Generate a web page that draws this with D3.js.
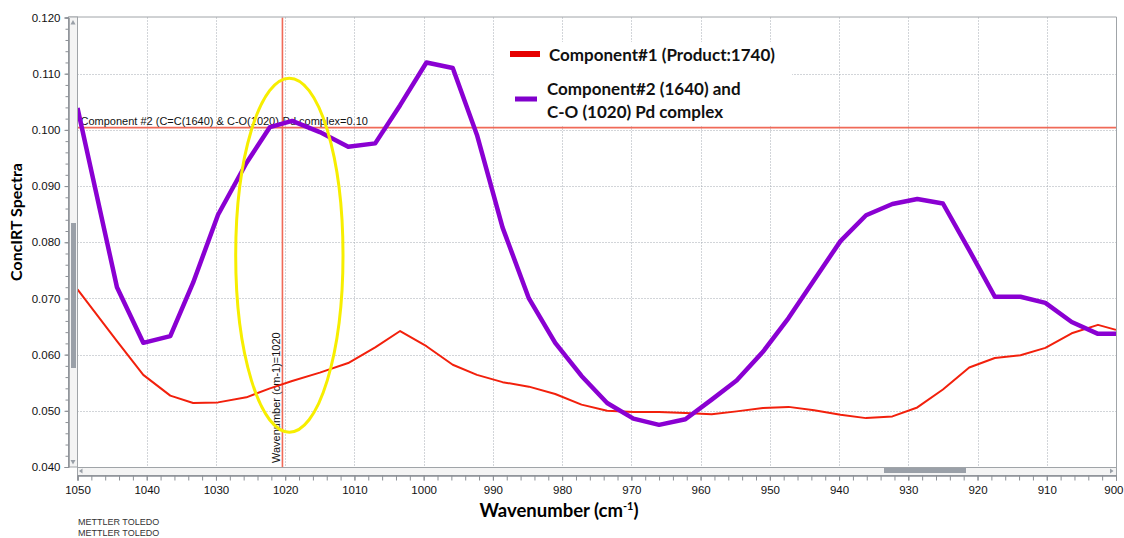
<!DOCTYPE html>
<html>
<head>
<meta charset="utf-8">
<script src="https://cdn.jsdelivr.net/npm/d3@7"></script>
<style>
  body { margin: 0; background: #fff; }
  svg { display: block; }
  .tick text { font-family: "Liberation Sans", Arial, sans-serif; font-size: 11.5px; fill: #111; }
</style>
</head>
<body>
<div id="chart"></div>
<script>
// wavenumber samples (cm-1), shared by both components
const wavenumbers = [1050, 1044.3, 1040.5, 1036.6, 1033.3, 1029.7, 1025.6, 1022.2, 1019, 1015,
    1010.9, 1007, 1003.4, 999.6, 995.8, 992.3, 988.6, 984.8, 981, 977.2,
    973.5, 969.7, 966, 962.2, 958.4, 954.8, 951, 947.3, 943.6, 939.8,
    936.1, 932.3, 928.7, 925, 921.2, 917.5, 913.8, 910.2, 906.4, 902.6, 900];

const component1 = [0.0716, 0.0624, 0.0564, 0.0527, 0.0514, 0.0515, 0.0524, 0.0540, 0.0553, 0.0568,
    0.0585, 0.0613, 0.0642, 0.0615, 0.0582, 0.0564, 0.0551, 0.0543, 0.0530, 0.0511,
    0.0500, 0.0498, 0.0498, 0.0496, 0.0494, 0.0499, 0.0505, 0.0507, 0.0501, 0.0493,
    0.0487, 0.0490, 0.0506, 0.0538, 0.0577, 0.0594, 0.0599, 0.0612, 0.0638, 0.0653, 0.0644];

const component2 = [0.1039, 0.0720, 0.0621, 0.0633, 0.0728, 0.0849, 0.0941, 0.1005, 0.1016, 0.0996,
    0.0970, 0.0976, 0.1044, 0.1120, 0.1110, 0.0991, 0.0826, 0.0700, 0.0621, 0.0562,
    0.0514, 0.0486, 0.0475, 0.0485, 0.0520, 0.0554, 0.0605, 0.0665, 0.0733, 0.0802,
    0.0848, 0.0868, 0.0877, 0.0869, 0.0786, 0.0703, 0.0703, 0.0692, 0.0658, 0.0637, 0.0637];

const xTickLabels = [1050, 1040, 1030, 1020, 1010, 1000, 990, 980, 970, 960, 950, 940, 930, 920, 910, 900];
const yTickLabels = [0.040, 0.050, 0.060, 0.070, 0.080, 0.090, 0.100, 0.110, 0.120];

const legendLabels = [["Component#1 (Product:1740)"], ["Component#2 (1640) and", "C-O (1020) Pd complex"]];
const seriesColors = ["#f2200c", "#8a00d2"];

// cursor read-out and highlight ellipse (in data units)
const cursorWave = 1020.4;
const cursorValue = 0.1004;
const cursorText = "Component #2 (C=C(1640) & C-O(1020)-Pd complex=0.10";
const cursorWaveText = "Wavenumber (cm-1)=1020";
const ellipse = { wave: 1019.4, value: 0.0777, dWave: 7.75, dValue: 0.0315 };

const width = 1124, height = 538;
const plotLeft = 77.5, plotRight = 1116, plotTop = 17.5, plotBottom = 467;

const svg = d3.select("#chart").append("svg")
    .attr("width", width)
    .attr("height", height);

const x = d3.scaleLinear().domain([1050, 900]).range([plotLeft, plotRight]);
const y = d3.scaleLinear().domain([0.04, 0.12]).range([plotBottom, plotTop]);

// grid
const grid = svg.append("g").attr("class", "grid");
grid.selectAll("line.gx")
    .data(xTickLabels.slice(1, -1))
    .enter().append("line")
    .attr("x1", d => Math.round(x(d)) + 0.5).attr("x2", d => Math.round(x(d)) + 0.5)
    .attr("y1", plotTop).attr("y2", plotBottom)
    .attr("stroke", "#a4aab2").attr("stroke-dasharray", "1,2");
grid.selectAll("line.gy")
    .data(yTickLabels.slice(1, -1))
    .enter().append("line")
    .attr("x1", plotLeft).attr("x2", plotRight)
    .attr("y1", d => Math.round(y(d)) + 0.5).attr("y2", d => Math.round(y(d)) + 0.5)
    .attr("stroke", "#a4aab2").attr("stroke-dasharray", "1,2");

// white legend backdrop
svg.append("rect")
    .attr("x", 494).attr("y", 42).attr("width", 298).attr("height", 84)
    .attr("fill", "#fff");

// cursor lines
svg.append("line")
    .attr("x1", x(cursorWave)).attr("x2", x(cursorWave))
    .attr("y1", plotTop).attr("y2", plotBottom)
    .attr("stroke", "#f06a58").attr("stroke-width", 1.6);
svg.append("line")
    .attr("x1", plotLeft).attr("x2", plotRight)
    .attr("y1", y(cursorValue)).attr("y2", y(cursorValue))
    .attr("stroke", "#f06a58").attr("stroke-width", 1.6);

svg.append("text")
    .attr("x", plotLeft + 3).attr("y", y(cursorValue) - 3)
    .style("font-family", "Liberation Sans, Arial, sans-serif")
    .style("font-size", "11px")
    .attr("fill", "#111")
    .text(cursorText);

svg.append("text")
    .attr("transform", "translate(" + (x(cursorWave) - 2) + "," + (plotBottom - 4) + ") rotate(-90)")
    .style("font-family", "Liberation Sans, Arial, sans-serif")
    .style("font-size", "11px")
    .attr("fill", "#111")
    .text(cursorWaveText);

// series
const line = d3.line()
    .x(d => x(d[0]))
    .y(d => y(d[1]));

svg.append("path")
    .datum(wavenumbers.map((w, i) => [w, component1[i]]))
    .attr("fill", "none")
    .attr("stroke", seriesColors[0])
    .attr("stroke-width", 2)
    .attr("stroke-linejoin", "round")
    .attr("d", line);

svg.append("path")
    .datum(wavenumbers.map((w, i) => [w, component2[i]]))
    .attr("fill", "none")
    .attr("stroke", seriesColors[1])
    .attr("stroke-width", 4.5)
    .attr("stroke-linejoin", "round")
    .attr("d", line);

// highlight ellipse
svg.append("ellipse")
    .attr("cx", x(ellipse.wave)).attr("cy", y(ellipse.value))
    .attr("rx", x(ellipse.wave - ellipse.dWave) - x(ellipse.wave))
    .attr("ry", y(ellipse.value - ellipse.dValue) - y(ellipse.value))
    .attr("fill", "none")
    .attr("stroke", "#f7ee00")
    .attr("stroke-width", 3);

// frame (top + right)
svg.append("path")
    .attr("d", "M68.5," + (plotTop - 0.5) + "H" + (plotRight + 0.5) + "V475.5")
    .attr("fill", "none").attr("stroke", "#a0a4a8");

// vertical scrollbar
const vbar = svg.append("g");
vbar.append("rect").attr("x", 68.5).attr("y", plotTop - 0.5).attr("width", 9).attr("height", plotBottom - plotTop + 0.5)
    .attr("fill", "#f4f4f4").attr("stroke", "#a0a4a8");
vbar.append("rect").attr("x", 71).attr("y", 223).attr("width", 5).attr("height", 145).attr("fill", "#9aa0a8");
vbar.append("path").attr("d", "M70.5,24.5L73,20L75.5,24.5Z").attr("fill", "#9aa0a8");
vbar.append("path").attr("d", "M70.5,460L73,464.5L75.5,460Z").attr("fill", "#9aa0a8");

// horizontal scrollbar
const hbar = svg.append("g");
hbar.append("rect").attr("x", 77.5).attr("y", plotBottom + 0.5).attr("width", plotRight - 77.5 + 0.5).attr("height", 8)
    .attr("fill", "#f4f4f4").attr("stroke", "#a0a4a8");
hbar.append("rect").attr("x", 884).attr("y", 468).attr("width", 82).attr("height", 5).attr("fill", "#9aa0a8");
hbar.append("path").attr("d", "M82.5,468.5L79,471L82.5,473.5Z").attr("fill", "#9aa0a8");
hbar.append("path").attr("d", "M1110,468.5L1113.5,471L1110,473.5Z").attr("fill", "#9aa0a8");

// axes
const yAxis = svg.append("g")
    .attr("transform", "translate(68.5,0)")
    .call(d3.axisLeft(y).tickValues(yTickLabels).tickFormat(d3.format(".3f")).tickSize(4).tickPadding(4));
const yMinor = svg.append("g")
    .attr("transform", "translate(68.5,0)")
    .call(d3.axisLeft(y).tickValues(d3.range(0.040, 0.1201, 0.002)).tickFormat("").tickSize(3));
const xAxis = svg.append("g")
    .attr("transform", "translate(0,475.5)")
    .call(d3.axisBottom(x).tickValues(xTickLabels).tickFormat(d3.format("d")).tickSize(5).tickPadding(5));
const xMinor = svg.append("g")
    .attr("transform", "translate(0,475.5)")
    .call(d3.axisBottom(x).tickValues(d3.range(1050, 899, -2)).tickFormat("").tickSize(5));

// last label sits at the window edge, keep it inside
xAxis.selectAll(".tick text").filter(d => d === 900).attr("text-anchor", "end").attr("dx", "7");

[yAxis, yMinor, xAxis, xMinor].forEach(a => {
    a.select(".domain").attr("stroke", "#8c9096");
    a.selectAll(".tick line").attr("stroke", "#8c9096");
});

// axis titles
svg.append("text")
    .attr("transform", "translate(22,222) rotate(-90)")
    .attr("text-anchor", "middle")
    .style("font-family", "Lato, sans-serif")
    .style("font-weight", "bold")
    .style("font-size", "16px")
    .text("ConcIRT Spectra");

const xTitle = svg.append("text")
    .attr("x", 559).attr("y", 517)
    .attr("text-anchor", "middle")
    .style("font-family", "Lato, sans-serif")
    .style("font-weight", "bold")
    .style("font-size", "18.5px");
xTitle.append("tspan").text("Wavenumber (cm");
xTitle.append("tspan").attr("dy", -7).style("font-size", "11px").text("-1");
xTitle.append("tspan").attr("dy", 7).text(")");

// legend
const legend = svg.append("g").attr("class", "legend");
legend.append("rect").attr("x", 510).attr("y", 51).attr("width", 30).attr("height", 6).attr("fill", "#e60000");
legend.append("rect").attr("x", 515).attr("y", 96.5).attr("width", 22).attr("height", 5).attr("fill", "#8000cc");
const legendY = [[55], [89, 112]];
legendLabels.forEach((lines, i) => {
    lines.forEach((t, j) => {
        legend.append("text")
            .attr("x", i === 0 ? 549 : 547)
            .attr("y", legendY[i][j])
            .attr("dy", "0.35em")
            .style("font-family", "Lato, sans-serif")
            .style("font-weight", "bold")
            .style("font-size", "17px")
            .attr("fill", "#111")
            .text(t);
    });
});

// footer
["METTLER TOLEDO", "METTLER TOLEDO"].forEach((t, i) => {
    svg.append("text")
        .attr("x", 78).attr("y", 525 + i * 11)
        .style("font-family", "Liberation Sans, Arial, sans-serif")
        .style("font-size", "9px")
        .attr("fill", "#333")
        .text(t);
});
</script>
</body>
</html>
